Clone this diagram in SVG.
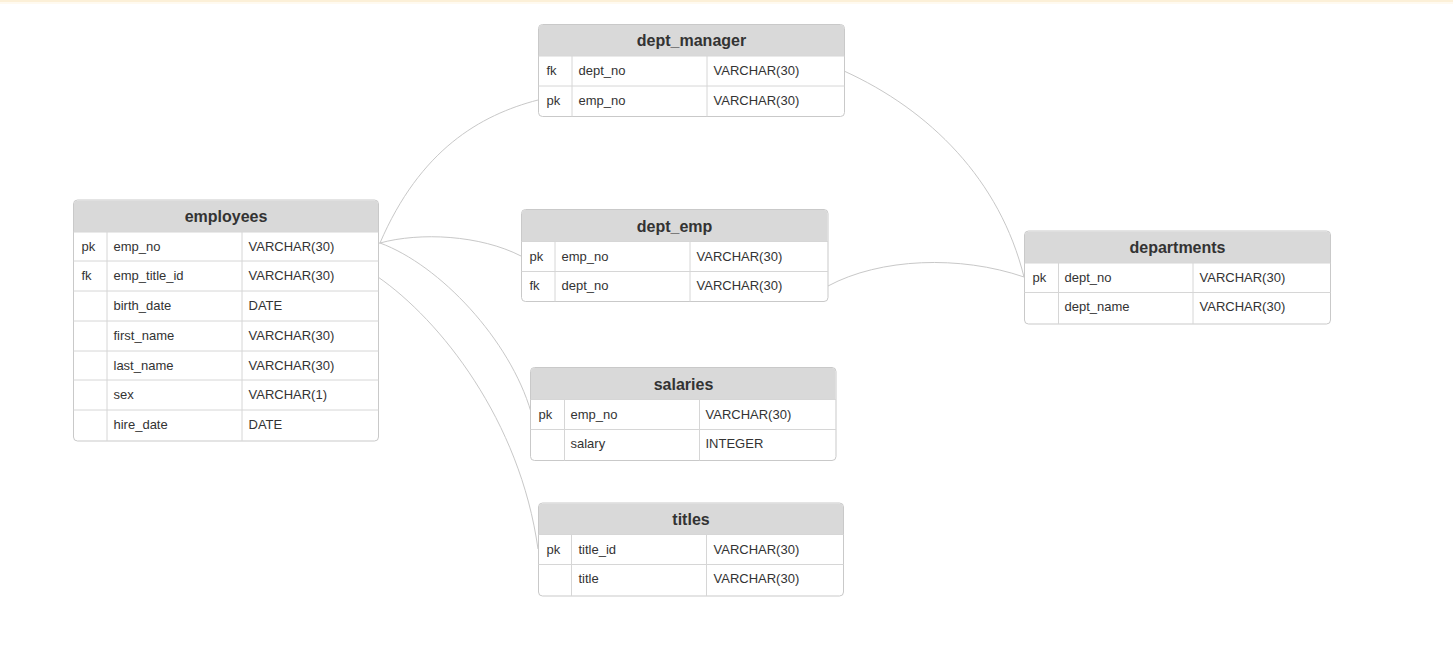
<svg xmlns="http://www.w3.org/2000/svg" width="1453" height="658" viewBox="0 0 1453 658">
<style>
.frame{fill:#fff;stroke:#c9c9c9;stroke-width:1}
.hdr{fill:#d9d9d9}
.ln{stroke:#d6d6d6;stroke-width:1;fill:none}
.title{font-family:"Liberation Sans",Arial,sans-serif;font-size:16px;font-weight:bold;fill:#333;text-anchor:middle}
.cell{font-family:"Liberation Sans",Arial,sans-serif;font-size:13px;fill:#333}
.conn path{fill:none;stroke:#c8c8c8;stroke-width:1}
</style>
<rect x="0" y="0" width="1453" height="2" fill="#fcf0d8"/>
<rect x="0" y="2" width="1453" height="2" fill="#fffaf0"/>

<g class="conn" id="connectors">
<path d="M366.5,246.5 L380,243"/>
<path d="M380,243 C420,150 480,115 538,100"/>
<path d="M380,243 C420,232 480,235 521,256"/>
<path d="M380,243 C440,265 510,340 531,412"/>
<path d="M378,277 C440,320 520,420 538,549"/>
<path d="M844,71 C930,110 1000,180 1024,277"/>
<path d="M828,286 C880,258 960,255 1024,277"/>
</g>

<g id="employees" transform="translate(73.5,200)">
<path class="frame" d="M4,0 H301 A4,4 0 0 1 305,4 V237 A4,4 0 0 1 301,241 H4 A4,4 0 0 1 0,237 V4 A4,4 0 0 1 4,0 Z"/>
<path class="hdr" d="M4,0.5 H301 A3.5,3.5 0 0 1 304.5,4 V32 H0.5 V4 A3.5,3.5 0 0 1 4,0.5 Z"/>
<path class="ln" d="M0,32 H305 M0,61 H305 M0,91 H305 M0,121 H305 M0,151 H305 M0,180 H305 M0,210 H305 M33.5,32 V241 M168.5,32 V241"/>
<text class="title" x="152.5" y="22">employees</text>
<text class="cell" x="8" y="51">pk</text><text class="cell" x="40" y="51">emp_no</text><text class="cell" x="175" y="51">VARCHAR(30)</text>
<text class="cell" x="8" y="80">fk</text><text class="cell" x="40" y="80">emp_title_id</text><text class="cell" x="175" y="80">VARCHAR(30)</text>
<text class="cell" x="40" y="110">birth_date</text><text class="cell" x="175" y="110">DATE</text>
<text class="cell" x="40" y="140">first_name</text><text class="cell" x="175" y="140">VARCHAR(30)</text>
<text class="cell" x="40" y="170">last_name</text><text class="cell" x="175" y="170">VARCHAR(30)</text>
<text class="cell" x="40" y="199">sex</text><text class="cell" x="175" y="199">VARCHAR(1)</text>
<text class="cell" x="40" y="229">hire_date</text><text class="cell" x="175" y="229">DATE</text>
</g>

<g id="dept_manager" transform="translate(538.5,24.5)">
<path class="frame" d="M4,0 H302 A4,4 0 0 1 306,4 V88 A4,4 0 0 1 302,92 H4 A4,4 0 0 1 0,88 V4 A4,4 0 0 1 4,0 Z"/>
<path class="hdr" d="M4,0.5 H302 A3.5,3.5 0 0 1 305.5,4 V31.5 H0.5 V4 A3.5,3.5 0 0 1 4,0.5 Z"/>
<path class="ln" d="M0,31.5 H306 M0,61.5 H306 M33.5,31.5 V92 M168.5,31.5 V92"/>
<text class="title" x="153" y="21.5">dept_manager</text>
<text class="cell" x="8" y="50">fk</text><text class="cell" x="40" y="50">dept_no</text><text class="cell" x="175" y="50">VARCHAR(30)</text>
<text class="cell" x="8" y="80">pk</text><text class="cell" x="40" y="80">emp_no</text><text class="cell" x="175" y="80">VARCHAR(30)</text>
</g>

<g id="dept_emp" transform="translate(521.5,209.5)">
<path class="frame" d="M4,0 H302.5 A4,4 0 0 1 306.5,4 V88 A4,4 0 0 1 302.5,92 H4 A4,4 0 0 1 0,88 V4 A4,4 0 0 1 4,0 Z"/>
<path class="hdr" d="M4,0.5 H302.5 A3.5,3.5 0 0 1 306,4 V32 H0.5 V4 A3.5,3.5 0 0 1 4,0.5 Z"/>
<path class="ln" d="M0,32 H306.5 M0,62 H306.5 M33.5,32 V92 M168.5,32 V92"/>
<text class="title" x="153" y="22">dept_emp</text>
<text class="cell" x="8" y="51">pk</text><text class="cell" x="40" y="51">emp_no</text><text class="cell" x="175" y="51">VARCHAR(30)</text>
<text class="cell" x="8" y="80">fk</text><text class="cell" x="40" y="80">dept_no</text><text class="cell" x="175" y="80">VARCHAR(30)</text>
</g>

<g id="salaries" transform="translate(530.5,367.5)">
<path class="frame" d="M4,0 H301.5 A4,4 0 0 1 305.5,4 V89 A4,4 0 0 1 301.5,93 H4 A4,4 0 0 1 0,89 V4 A4,4 0 0 1 4,0 Z"/>
<path class="hdr" d="M4,0.5 H301.5 A3.5,3.5 0 0 1 305,4 V32 H0.5 V4 A3.5,3.5 0 0 1 4,0.5 Z"/>
<path class="ln" d="M0,32 H305.5 M0,62 H305.5 M34,32 V93 M169,32 V93"/>
<text class="title" x="153" y="22">salaries</text>
<text class="cell" x="8" y="51">pk</text><text class="cell" x="40" y="51">emp_no</text><text class="cell" x="175" y="51">VARCHAR(30)</text>
<text class="cell" x="40" y="80">salary</text><text class="cell" x="175" y="80">INTEGER</text>
</g>

<g id="titles" transform="translate(538.5,503)">
<path class="frame" d="M4,0 H301 A4,4 0 0 1 305,4 V89 A4,4 0 0 1 301,93 H4 A4,4 0 0 1 0,89 V4 A4,4 0 0 1 4,0 Z"/>
<path class="hdr" d="M4,0.5 H301 A3.5,3.5 0 0 1 304.5,4 V31.5 H0.5 V4 A3.5,3.5 0 0 1 4,0.5 Z"/>
<path class="ln" d="M0,31.5 H305 M0,61.5 H305 M33,31.5 V93 M168,31.5 V93"/>
<text class="title" x="152.5" y="22">titles</text>
<text class="cell" x="8" y="51">pk</text><text class="cell" x="40" y="51">title_id</text><text class="cell" x="175" y="51">VARCHAR(30)</text>
<text class="cell" x="40" y="80">title</text><text class="cell" x="175" y="80">VARCHAR(30)</text>
</g>

<g id="departments" transform="translate(1024.5,231)">
<path class="frame" d="M4,0 H302 A4,4 0 0 1 306,4 V89 A4,4 0 0 1 302,93 H4 A4,4 0 0 1 0,89 V4 A4,4 0 0 1 4,0 Z"/>
<path class="hdr" d="M4,0.5 H302 A3.5,3.5 0 0 1 305.5,4 V32 H0.5 V4 A3.5,3.5 0 0 1 4,0.5 Z"/>
<path class="ln" d="M0,32 H306 M0,61.5 H306 M34,32 V93 M168.5,32 V93"/>
<text class="title" x="153" y="22">departments</text>
<text class="cell" x="8" y="51">pk</text><text class="cell" x="40" y="51">dept_no</text><text class="cell" x="175" y="51">VARCHAR(30)</text>
<text class="cell" x="40" y="80">dept_name</text><text class="cell" x="175" y="80">VARCHAR(30)</text>
</g>
</svg>
